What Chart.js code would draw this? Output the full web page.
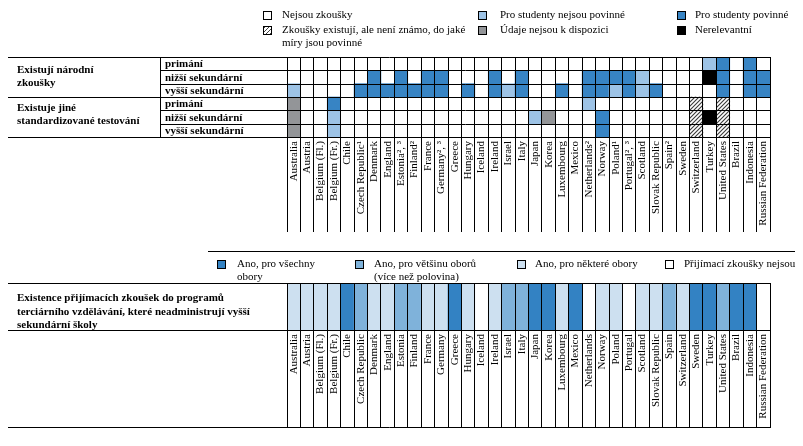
<!DOCTYPE html>
<html lang="cs">
<head>
<meta charset="utf-8">
<title>Národní zkoušky a přijímací zkoušky</title>
<script src="https://cdn.jsdelivr.net/npm/chart.js@4.4.1/dist/chart.umd.min.js"></script>
<style>
  body { margin: 0; background: #fff; }
  #page { position: relative; width: 803px; height: 446px; overflow: hidden; font-family: "Liberation Serif", serif; }
  #page canvas { position: absolute; left: 0; top: 0; }
  .t { position: absolute; font-size: 11px; line-height: 13px; white-space: nowrap; color: #000; }
  .b { font-weight: bold; }
  .sq { position: absolute; width: 7px; height: 7px; border: 1px solid #000; }
  .rule { position: absolute; height: 1px; background: #000; }
</style>
</head>
<body>
<div id="page">
  <canvas id="topChart" width="803" height="446"></canvas>
  <canvas id="bottomChart" width="803" height="446"></canvas>

  <!-- legende du haut -->
  <div class="sq" style="left:263px;top:11px;background:#fff"></div>
  <div class="t" style="left:282px;top:8px">Nejsou zkoušky</div>
  <div class="sq" style="left:263px;top:26px;background:repeating-linear-gradient(135deg,#444 0 1px,#fff 1px 3px)"></div>
  <div class="t" style="left:282px;top:23px">Zkoušky existují, ale není známo, do jaké</div>
  <div class="t" style="left:282px;top:36px">míry jsou povinné</div>
  <div class="sq" style="left:478px;top:11px;background:#9dc3e6"></div>
  <div class="t" style="left:500px;top:8px">Pro studenty nejsou povinné</div>
  <div class="sq" style="left:478px;top:26px;background:#939598"></div>
  <div class="t" style="left:500px;top:23px">Údaje nejsou k dispozici</div>
  <div class="sq" style="left:677px;top:11px;background:#3784c4"></div>
  <div class="t" style="left:695px;top:8px">Pro studenty povinné</div>
  <div class="sq" style="left:677px;top:26px;background:#000"></div>
  <div class="t" style="left:695px;top:23px">Nerelevantní</div>

  <!-- libelles du tableau du haut -->
  <div class="t b" style="left:17px;top:63px">Existují národní</div>
  <div class="t b" style="left:17px;top:76px">zkoušky</div>
  <div class="t b" style="left:17px;top:101px">Existuje jiné</div>
  <div class="t b" style="left:17px;top:114px">standardizované testování</div>
  <div class="t b" style="left:165px;top:57px">primání</div>
  <div class="t b" style="left:165px;top:71px">nižší sekundární</div>
  <div class="t b" style="left:165px;top:84px">vyšší sekundární</div>
  <div class="t b" style="left:165px;top:97px">primání</div>
  <div class="t b" style="left:165px;top:111px">nižší sekundární</div>
  <div class="t b" style="left:165px;top:124px">vyšší sekundární</div>

  <!-- legende du bas -->
  <div class="rule" style="left:208px;top:251px;width:587px"></div>
  <div class="sq" style="left:217px;top:260px;background:#3382c3"></div>
  <div class="t" style="left:237px;top:257px">Ano, pro všechny</div>
  <div class="t" style="left:237px;top:270px">obory</div>
  <div class="sq" style="left:355px;top:260px;background:#7fb2da"></div>
  <div class="t" style="left:374px;top:257px">Ano, pro většinu oborů</div>
  <div class="t" style="left:374px;top:270px">(více než polovina)</div>
  <div class="sq" style="left:517px;top:260px;background:#cde0f0"></div>
  <div class="t" style="left:535px;top:257px">Ano, pro některé obory</div>
  <div class="sq" style="left:665px;top:260px;background:#fff"></div>
  <div class="t" style="left:684px;top:257px">Přijímací zkoušky nejsou</div>

  <div class="t b" style="left:17px;top:291px">Existence přijímacích zkoušek do programů</div>
  <div class="t b" style="left:17px;top:305px">terciárního vzdělávání, které neadministrují vyšší</div>
  <div class="t b" style="left:17px;top:318px">sekundární školy</div>
</div>

<script>
document.addEventListener("DOMContentLoaded", function () {

    // ============================================================
    // 1. DONNEES
    // ============================================================

    // codes : 0 = nejsou zkoušky, 1 = nejsou povinné, 2 = povinné,
    //         3 = údaje nejsou k dispozici, 4 = nerelevantní, 5 = není známo
    const countriesTop = ["Australia", "Austria", "Belgium (Fl.)", "Belgium (Fr.)", "Chile", "Czech Republic¹",
        "Denmark", "England", "Estonia², ³", "Finland²", "France", "Germany², ³", "Greece", "Hungary", "Iceland",
        "Ireland", "Israel", "Italy", "Japan", "Korea", "Luxembourg", "Mexico", "Netherlands²", "Norway",
        "Poland¹", "Portugal², ³", "Scotland", "Slovak Republic", "Spain²", "Sweden", "Switzerland", "Turkey",
        "United States", "Brazil", "Indonesia", "Russian Federation"];

    const nationalPrimary = [0,0,0,0,0,0,0,0,0,0, 0,0,0,0,0,0,0,0,0,0, 0,0,0,0,0,0,0,0,0,0, 0,1,2,0,2,0];
    const nationalLower   = [0,0,0,0,0,0,2,0,2,0, 2,2,0,0,0,2,0,2,0,0, 0,0,2,2,2,2,1,0,0,0, 0,4,2,0,2,2];
    const nationalUpper   = [1,0,0,0,0,2,2,2,2,2, 2,2,0,2,0,2,1,2,0,0, 2,0,2,2,1,2,1,2,0,0, 0,0,2,0,2,2];
    const otherPrimary    = [3,0,0,2,0,0,0,0,0,0, 0,0,0,0,0,0,0,0,0,0, 0,0,1,0,0,0,0,0,0,0, 5,0,5,0,0,0];
    const otherLower      = [3,0,0,1,0,0,0,0,0,0, 0,0,0,0,0,0,0,0,1,3, 0,0,0,2,0,0,0,0,0,0, 5,4,5,0,0,0];
    const otherUpper      = [3,0,0,1,0,0,0,0,0,0, 0,0,0,0,0,0,0,0,0,0, 0,0,0,2,0,0,0,0,0,0, 5,0,5,0,0,0];

    // codes : 0 = nejsou, 1 = některé obory, 2 = většina oborů, 3 = všechny obory
    const countriesBottom = ["Australia", "Austria", "Belgium (Fl.)", "Belgium (Fr.)", "Chile", "Czech Republic",
        "Denmark", "England", "Estonia", "Finland", "France", "Germany", "Greece", "Hungary", "Iceland",
        "Ireland", "Israel", "Italy", "Japan", "Korea", "Luxembourg", "Mexico", "Netherlands", "Norway",
        "Poland", "Portugal", "Scotland", "Slovak Republic", "Spain", "Switzerland", "Sweden", "Turkey",
        "United States", "Brazil", "Indonesia", "Russian Federation"];

    const entranceExams = [1,1,1,1,3,2,1,1,2,2, 1,1,3,1,0,1,2,2,3,3, 1,3,0,1,1,0,1,1,2,1, 3,3,2,3,3,0];


    // ============================================================
    // 2. OUTILS
    // ============================================================

    const tickFont = { family: "'Liberation Serif', serif", size: 11 };

    function makeHatch(ctx) {
        const c = document.createElement("canvas");
        c.width = 4;
        c.height = 4;
        const g = c.getContext("2d");
        g.fillStyle = "#fff";
        g.fillRect(0, 0, 4, 4);
        g.strokeStyle = "#3a3a3a";
        g.lineWidth = 1.1;
        g.beginPath();
        g.moveTo(0, 4); g.lineTo(4, 0);
        g.moveTo(-1, 1); g.lineTo(1, -1);
        g.moveTo(3, 5); g.lineTo(5, 3);
        g.stroke();
        return ctx.createPattern(c, "repeat");
    }

    // traits horizontaux du tableau (hors zone du graphique)
    const tableRules = {
        id: "tableRules",
        afterDraw(chart, args, opts) {
            const { ctx, chartArea, scales } = chart;
            const line = (x1, y1, x2, y2) => {
                ctx.beginPath();
                ctx.moveTo(x1, y1);
                ctx.lineTo(x2, y2);
                ctx.stroke();
            };
            ctx.save();
            ctx.strokeStyle = "#000";
            ctx.lineWidth = 1;
            (opts.rows || []).forEach(r => {
                const y = Math.round(scales.y.getPixelForValue(r.value)) + 0.5;
                line(r.from, y, chartArea.right + 1, y);
            });
            if (opts.divider) {
                const x = opts.divider + 0.5;
                line(x, chartArea.top, x, chartArea.bottom);
            }
            if (opts.closeFrom) {
                const y = Math.round(scales.x.bottom) - 0.5;
                line(opts.closeFrom, y, chartArea.right + 1, y);
            }
            ctx.restore();
        }
    };

    function gridScales(labels, axisHeight, maxRow) {
        return {
            x: {
                type: "category",
                labels: labels,
                offset: true,
                grid: { offset: true, color: "#000", lineWidth: 1, tickLength: axisHeight, z: 1 },
                border: { color: "#000", z: 1 },
                ticks: {
                    autoSkip: false, minRotation: 90, maxRotation: 90,
                    padding: 4 - axisHeight, color: "#000", font: tickFont
                },
                afterFit: scale => { scale.height = axisHeight; }
            },
            y: { display: false, min: 0, max: maxRow, reverse: true }
        };
    }


    // ============================================================
    // 3. TABLEAU DU HAUT (zkoušky a testování)
    // ============================================================

    const topCanvas = document.getElementById("topChart");
    const topFill = ["#fff", "#9dc3e6", "#3784c4", "#939598", "#000", makeHatch(topCanvas.getContext("2d"))];
    const topRows = [nationalPrimary, nationalLower, nationalUpper, otherPrimary, otherLower, otherUpper];

    new Chart(topCanvas, {
        type: "bar",
        data: {
            labels: countriesTop,
            datasets: topRows.map((row, r) => ({
                data: row.map(code => code ? [r, r + 1] : null),
                backgroundColor: row.map(code => topFill[code]),
                borderWidth: 0,
                grouped: false,
                categoryPercentage: 1,
                barPercentage: 1
            }))
        },
        options: {
            responsive: false,
            animation: false,
            layout: { padding: { left: 287, right: 33, top: 57, bottom: 214 } },
            plugins: {
                legend: { display: false },
                tooltip: { enabled: false },
                tableRules: {
                    rows: [
                        { value: 0, from: 8 }, { value: 1, from: 160 }, { value: 2, from: 160 },
                        { value: 3, from: 8 }, { value: 4, from: 160 }, { value: 5, from: 160 },
                        { value: 6, from: 8 }
                    ],
                    divider: 160
                }
            },
            scales: gridScales(countriesTop, 95, topRows.length)
        },
        plugins: [tableRules]
    });


    // ============================================================
    // 4. TABLEAU DU BAS (přijímací zkoušky)
    // ============================================================

    const bottomFill = ["#fff", "#cde0f0", "#7fb2da", "#3382c3"];

    new Chart(document.getElementById("bottomChart"), {
        type: "bar",
        data: {
            labels: countriesBottom,
            datasets: [{
                data: entranceExams.map(code => code ? [0, 1] : null),
                backgroundColor: entranceExams.map(code => bottomFill[code]),
                borderWidth: 0,
                grouped: false,
                categoryPercentage: 1,
                barPercentage: 1
            }]
        },
        options: {
            responsive: false,
            animation: false,
            layout: { padding: { left: 287, right: 33, top: 283, bottom: 18 } },
            plugins: {
                legend: { display: false },
                tooltip: { enabled: false },
                tableRules: {
                    rows: [{ value: 0, from: 8 }, { value: 1, from: 8 }],
                    closeFrom: 8
                }
            },
            scales: gridScales(countriesBottom, 98, 1)
        },
        plugins: [tableRules]
    });
});
</script>
</body>
</html>
